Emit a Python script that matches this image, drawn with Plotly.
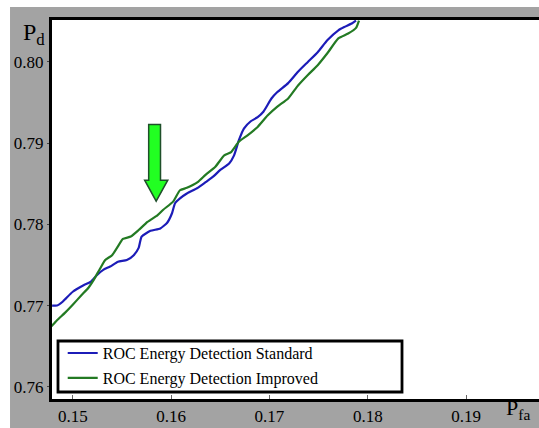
import plotly.graph_objects as go

# ---- data ----
pfa_standard = [0.1479, 0.1484, 0.1490, 0.1500, 0.1511, 0.1518, 0.1525, 0.1531, 0.1538, 0.1546,
                0.1555, 0.1562, 0.1567, 0.1570, 0.1579, 0.1589, 0.1596, 0.1601, 0.1604, 0.1609,
                0.1616, 0.1627, 0.1635, 0.1643, 0.1650, 0.1659, 0.1664, 0.1669, 0.1674, 0.1681,
                0.1688, 0.1694, 0.1702, 0.1708, 0.1719, 0.1729, 0.1739, 0.1749, 0.1759, 0.1770,
                0.1776, 0.1783, 0.1788]
pd_standard = [0.7700, 0.7700, 0.7705, 0.7717, 0.7725, 0.7729, 0.7738, 0.7744, 0.7748, 0.7754,
               0.7756, 0.7762, 0.7771, 0.7785, 0.7792, 0.7795, 0.7802, 0.7814, 0.7826, 0.7832,
               0.7838, 0.7845, 0.7852, 0.7859, 0.7867, 0.7875, 0.7885, 0.7904, 0.7918, 0.7927,
               0.7932, 0.7939, 0.7955, 0.7963, 0.7974, 0.7988, 0.8000, 0.8012, 0.8027, 0.8039,
               0.8043, 0.8047, 0.8051]

pfa_improved = [0.1478, 0.1484, 0.1492, 0.1500, 0.1509, 0.1516, 0.1521, 0.1528, 0.1533, 0.1540,
                0.1545, 0.1551, 0.1559, 0.1567, 0.1576, 0.1586, 0.1592, 0.1602, 0.1609, 0.1616,
                0.1627, 0.1635, 0.1645, 0.1654, 0.1661, 0.1669, 0.1678, 0.1688, 0.1698, 0.1708,
                0.1719, 0.1729, 0.1739, 0.1749, 0.1759, 0.1770, 0.1780, 0.1788, 0.1791]
pd_improved = [0.7674, 0.7682, 0.7691, 0.7701, 0.7713, 0.7722, 0.7731, 0.7746, 0.7756, 0.7762,
               0.7771, 0.7782, 0.7785, 0.7793, 0.7803, 0.7811, 0.7818, 0.7828, 0.7842, 0.7845,
               0.7852, 0.7861, 0.7871, 0.7885, 0.7889, 0.7902, 0.7910, 0.7920, 0.7934, 0.7945,
               0.7955, 0.7971, 0.7984, 0.7996, 0.8011, 0.8029, 0.8035, 0.8042, 0.8051]

series_names = ["ROC Energy Detection Standard", "ROC Energy Detection Improved"]
series_colors = ["#1c1cb8", "#237a23"]

x_ticks = [0.15, 0.16, 0.17, 0.18, 0.19]
y_ticks = [0.76, 0.77, 0.78, 0.79, 0.80]
x_range = [0.14789, 0.19740]
y_range = [0.75849, 0.80517]

# arrow (block arrow) outline in data units
arrow_x = [0.15772, 0.15892, 0.15892, 0.15966, 0.15848, 0.15731, 0.15772]
arrow_y = [0.79230, 0.79230, 0.78544, 0.78544, 0.78286, 0.78544, 0.78544]

serif = "Liberation Serif, Times New Roman, serif"

fig = go.Figure()
fig.add_trace(go.Scatter(x=pfa_standard, y=pd_standard, mode="lines", name=series_names[0],
                         line=dict(color=series_colors[0], width=2.2, shape="spline", smoothing=0.5),
                         legendgroup="g0"))
fig.add_trace(go.Scatter(x=pfa_improved, y=pd_improved, mode="lines", name=series_names[1],
                         line=dict(color=series_colors[1], width=2.2, shape="spline", smoothing=0.5),
                         legendgroup="g1"))

path = "M " + " L ".join(f"{x},{y}" for x, y in zip(arrow_x, arrow_y)) + " Z"
shapes = [
    dict(type="path", path=path, xref="x", yref="y", fillcolor="#22ff22",
         line=dict(color="#1f4f2a", width=1.5), layer="above"),
    # legend frame
    dict(type="rect", xref="paper", yref="paper", x0=0.0123, x1=0.7187, y0=0.0185, y1=0.1530,
         fillcolor="white", line=dict(color="black", width=2.8), layer="above"),
    # white margins around the grey page
    dict(type="rect", xref="paper", yref="paper", x0=-0.2, x1=1.2, y0=1.0343, y1=1.2,
         fillcolor="white", line=dict(width=0), layer="above"),
    dict(type="rect", xref="paper", yref="paper", x0=-0.2, x1=-0.0862, y0=-0.2, y1=1.2,
         fillcolor="white", line=dict(width=0), layer="above"),
]

fig.update_layout(
    width=539, height=428,
    margin=dict(l=52, r=0, t=20, b=29),
    paper_bgcolor="#a3a3a3",
    plot_bgcolor="white",
    font=dict(family=serif, size=17, color="black"),
    showlegend=True,
    legend=dict(x=0.022, y=0.166, xanchor="left", yanchor="top", bgcolor="rgba(0,0,0,0)",
                borderwidth=0, font=dict(family=serif, size=16, color="black"),
                tracegroupgap=1),
    shapes=shapes,
    xaxis=dict(range=x_range, tickvals=x_ticks, ticktext=[f"{v:.2f}" for v in x_ticks],
               showgrid=False, zeroline=False, showline=True, linecolor="black", linewidth=3,
               mirror=True, ticks="inside", ticklen=4, tickcolor="#666", tickwidth=1,
               tickfont=dict(family=serif, size=17, color="black")),
    yaxis=dict(range=y_range, tickvals=y_ticks, ticktext=[f"{v:.2f}" for v in y_ticks],
               showgrid=False, zeroline=False, showline=True, linecolor="black", linewidth=3,
               mirror=False, ticks="outside", ticklen=2, tickcolor="#444", tickwidth=1,
               ticklabelstandoff=0,
               tickfont=dict(family=serif, size=17, color="black")),
    annotations=[
        dict(text="P<sub>d</sub>", xref="paper", yref="paper", x=-0.063, y=1.008,
             xanchor="left", yanchor="top", showarrow=False,
             font=dict(family=serif, size=24, color="black")),
        dict(text="P<sub>fa</sub>", xref="paper", yref="paper", x=0.928, y=-0.068,
             xanchor="left", yanchor="bottom", showarrow=False,
             font=dict(family=serif, size=22, color="black")),
    ],
)

fig.write_html("out.html", config={"displayModeBar": False},
               post_script="document.body.style.margin='0';document.body.style.overflow='hidden';")
